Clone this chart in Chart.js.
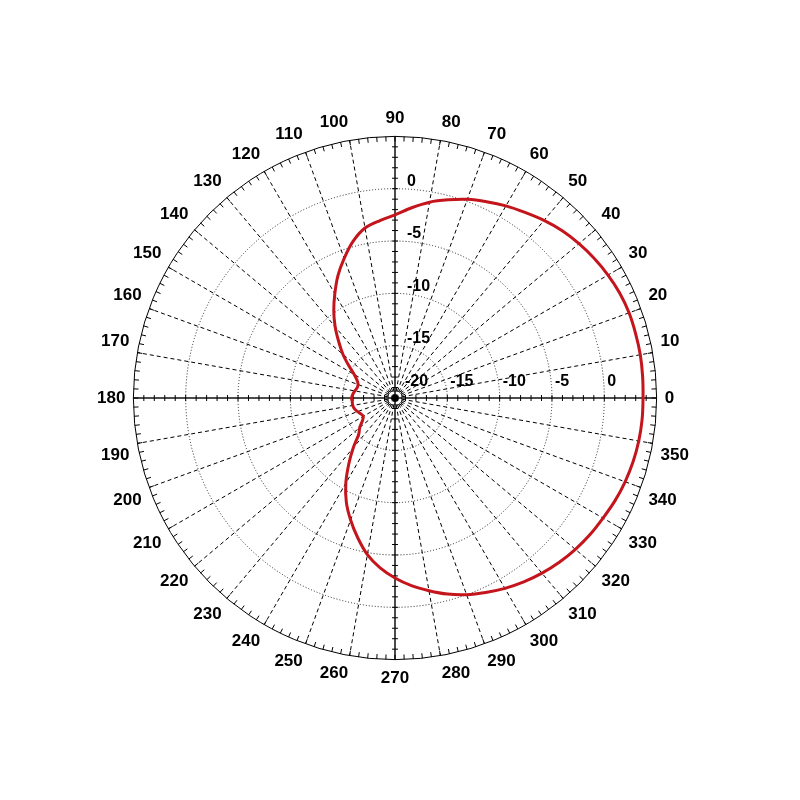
<!DOCTYPE html>
<html lang="en">
<head>
  <meta charset="UTF-8">
  <title>Radiation Pattern</title>
  <script src="https://cdn.jsdelivr.net/npm/chart.js@4"></script>
  <style>
    html, body { margin: 0; padding: 0; background: #fff; }
    #wrap { width: 800px; height: 800px; }
  </style>
</head>
<body>
  <div id="wrap"><canvas id="patternChart"></canvas></div>
  <script>
    // azimuth (degrees, counter-clockwise from the right) and relative gain (dB)
    const angles = [0, 5, 10, 15, 20, 25, 30, 35, 40, 45, 50, 55,
      60, 65, 70, 75, 80, 85, 90, 95, 100, 105, 110, 115,
      120, 125, 130, 135, 140, 145, 150, 155, 160, 165, 170, 175,
      180, 185, 190, 195, 200, 205, 210, 215, 220, 225, 230, 235,
      240, 245, 250, 255, 260, 265, 270, 275, 280, 285, 290, 295,
      300, 305, 310, 315, 320, 325, 330, 335, 340, 345, 350, 355];
    const gain = [3.7, 3.75, 3.8, 3.8, 3.8, 3.7, 3.5, 3.25, 2.95, 2.6, 2.15, 1.65,
      1.2, 0.7, 0.2, -0.4, -1.0, -1.75, -2.5, -3.0, -3.5, -4.5, -5.8, -7.1,
      -8.5, -9.8, -11.1, -12.4, -13.5, -14.6, -15.5, -16.0, -16.25, -16.25, -16.1, -15.95,
      -15.85, -15.9, -15.9, -16.0, -16.2, -16.4, -16.5, -16.2, -15.6, -15.1, -13.8, -12.3,
      -10.6, -9.0, -7.6, -6.2, -4.8, -3.7, -2.8, -2.0, -1.3, -0.6, 0.0, 0.5,
      1.0, 1.45, 1.85, 2.2, 2.5, 2.75, 2.95, 3.2, 3.4, 3.55, 3.65, 3.7];
    const ringTicks = [-20, -15, -10, -5, 0];
    const rMin = -20;
    const rMax = 5;

    const family = '"Liberation Sans", Arial, sans-serif';

    // radar goes clockwise, the plot goes counter-clockwise from 0 at the right
    const order = angles.map((a, i) => (angles.length - i) % angles.length);
    const labels = order.map(j => String(angles[j]));
    const values = order.map(j => gain[j]);

    const decorations = {
      id: 'decorations',
      beforeDatasetsDraw(chart) {
        const s = chart.scales.r;
        const ctx = chart.ctx;
        const cx = s.xCenter, cy = s.yCenter;
        const R = s.getDistanceFromCenterForValue(rMax);
        ctx.save();
        ctx.strokeStyle = '#000';
        ctx.lineWidth = 1;
        ctx.setLineDash([]);

        // ticks inside the outer circle, every 2 degrees
        for (let a = 0; a < 360; a += 2) {
          const t = a * Math.PI / 180;
          ctx.beginPath();
          ctx.moveTo(cx + R * Math.cos(t), cy - R * Math.sin(t));
          ctx.lineTo(cx + (R - 5) * Math.cos(t), cy - (R - 5) * Math.sin(t));
          ctx.stroke();
        }

        // 1 dB ticks across the axes
        for (let v = rMin + 1; v < rMax; v++) {
          const d = s.getDistanceFromCenterForValue(v);
          ctx.beginPath();
          ctx.moveTo(cx + d, cy - 3); ctx.lineTo(cx + d, cy + 3);
          ctx.moveTo(cx - d, cy - 3); ctx.lineTo(cx - d, cy + 3);
          ctx.moveTo(cx - 3, cy - d); ctx.lineTo(cx + 3, cy - d);
          ctx.moveTo(cx - 3, cy + d); ctx.lineTo(cx + 3, cy + d);
          ctx.stroke();
        }

        // little marker at the origin
        ctx.setLineDash([1, 1]);
        ctx.strokeRect(cx - 6.5, cy - 6.5, 13, 13);
        ctx.setLineDash([]);
        ctx.fillStyle = '#000';
        ctx.fillRect(cx - 2, cy - 2, 5, 5);

        // dB labels along the vertical and horizontal axes
        ctx.font = 'bold 16px ' + family;
        ctx.textAlign = 'left';
        ctx.textBaseline = 'middle';
        ringTicks.forEach(v => {
          const d = s.getDistanceFromCenterForValue(v);
          if (v === rMin) {
            ctx.fillText(String(v), cx + 10, cy - 16);
            return;
          }
          ctx.fillText(String(v), cx + 12, cy - d - 7);
          ctx.fillText(String(v), cx + d + 3, cy - 16);
        });
        ctx.restore();
      }
    };

    new Chart(document.getElementById('patternChart'), {
      type: 'radar',
      data: {
        labels: labels,
        datasets: [{
          data: values,
          borderColor: '#c4141c',
          borderWidth: 3,
          pointRadius: 0,
          fill: false,
          tension: 0.3
        }]
      },
      options: {
        responsive: true,
        maintainAspectRatio: false,
        animation: false,
        events: [],
        layout: { padding: { left: 95, right: 108, top: 99, bottom: 102 } },
        plugins: { legend: { display: false }, tooltip: { enabled: false } },
        scales: {
          r: {
            min: rMin,
            max: rMax,
            startAngle: 90,
            ticks: { display: false, stepSize: 5 },
            grid: {
              circular: true,
              color: c => (c.tick && c.tick.value === rMax) ? '#000' : '#222',
              lineWidth: 1
            },
            border: { dash: c => (c.tick && c.tick.value === rMax) ? [] : [1, 2] },
            angleLines: {
              color: c => c.index % 18 === 0 ? '#111' : '#000',
              lineWidth: c => c.index % 2 ? 0 : (c.index % 18 === 0 ? 1.5 : 1),
              borderDash: c => c.index % 18 === 0 ? [] : [4, 3]
            },
            pointLabels: {
              callback: label => Number(label) % 10 === 0 ? label : '',
              font: { family: family, size: 17, weight: 'bold' },
              color: '#000',
              padding: 8
            }
          }
        }
      },
      plugins: [decorations]
    });
  </script>
</body>
</html>
